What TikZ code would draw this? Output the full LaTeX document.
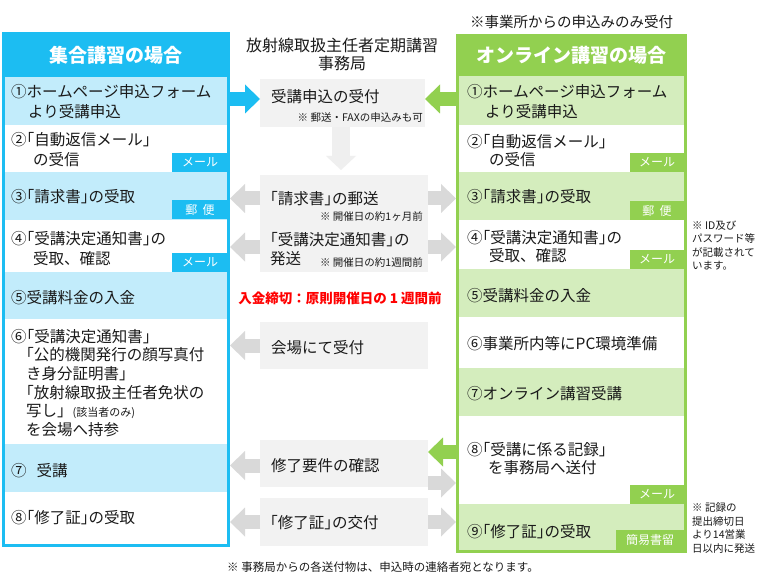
\documentclass[tikz,border=0pt]{standalone}
\usepackage{fontspec}
\setmainfont{Noto Sans CJK JP}
\usetikzlibrary{arrows.meta}
\definecolor{hblue}{HTML}{1CBDF2}
\definecolor{lblue}{HTML}{C2ECFB}
\definecolor{hgreen}{HTML}{92D050}
\definecolor{lgreen}{HTML}{D4EDBD}
\definecolor{gbox}{HTML}{F2F2F2}
\definecolor{garrow}{HTML}{D9D9D9}
\definecolor{darrow}{HTML}{EFEFEF}
\definecolor{txtc}{HTML}{1A1A1A}
\definecolor{redc}{HTML}{FF0000}
\newcommand\kl{\makebox[0.5em][r]{「}}
\newcommand\kr{\makebox[0.5em][l]{」}}
\begin{document}
\begin{tikzpicture}[x=1pt,y=-1pt,
  txt/.style={anchor=west,inner sep=0pt,align=left,text=txtc,font=\fontsize{15.5}{20}\selectfont},
  note/.style={anchor=east,inner sep=0pt,text=txtc,font=\fontsize{10.5}{12}\selectfont},
  tag/.style={anchor=south east,inner sep=0pt,outer sep=0pt,minimum height=19pt,text=white,font=\fontsize{12}{12}\selectfont},
  mbox/.style={fill=gbox,inner sep=0pt,outer sep=0pt,minimum width=168pt,minimum height=47pt,anchor=north west},
  blk/.style={line width=14pt,-{Triangle[length=15pt,width=29pt,line width=0pt]}},
  head/.style={text=white,font=\fontsize{19}{22}\selectfont\bfseries,inner sep=0pt,outer sep=0pt},
]
\useasboundingbox (0,0) rectangle (769,583);
\fill[white] (0,0) rectangle (769,583);

% ---------- left column ----------
\fill[hblue] (2,32) rectangle (230,76);
\node[head] (LH) at (116,55) {集合講習の場合};
\fill[lblue] (5,76) rectangle (227,125);
\fill[lblue] (5,172) rectangle (227,220);
\fill[lblue] (5,272) rectangle (227,319);
\fill[lblue] (5,444) rectangle (227,492);
\node[draw=hblue,line width=3pt,minimum width=225pt,minimum height=469.5pt,inner sep=0pt] (LB) at (116,310.75) {};

\node[tag,fill=hblue,minimum width=56pt] (LT2) at (228,172) {メール};
\node[tag,fill=hblue,minimum width=56pt] (LT3) at (228,219.5) {郵\ \ 便};
\node[tag,fill=hblue,minimum width=56pt] (LT4) at (228,272) {メール};

\node[txt] (L1) at (11,102) {①ホームページ申込フォーム\\\hspace*{17pt}より受講申込};
\node[txt] (L2) at (11,150) {②\kl 自動返信メール\kr\\\hspace*{22pt}の受信};
\node[txt] (L3) at (11,197) {③\kl 請求書\kr の受取};
\node[txt] (L4) at (11,249) {④\kl 受講決定通知書\kr の\\\hspace*{22pt}受取、確認};
\node[txt] (L5) at (11,298) {⑤受講料金の入金};
\node[txt,font=\fontsize{15.5}{18.6}\selectfont] (L6) at (11,383) {⑥\kl 受講決定通知書\kr\\\hspace*{15pt}\kl 公的機関発行の顔写真付\\\hspace*{15pt}き身分証明書\kr\\\hspace*{15pt}\kl 放射線取扱主任者免状の\\\hspace*{15pt}写し」{\fontsize{11}{11}\selectfont(該当者のみ)}\\\hspace*{15pt}を会場へ持参};
\node[txt] (L7) at (11,471) {⑦\hspace{10pt}受講};
\node[txt] (L8) at (11,518) {⑧\kl 修了証\kr の受取};

% ---------- right column ----------
\node[inner sep=0pt,anchor=west,font=\fontsize{14.5}{16}\selectfont,text=txtc] (TN) at (470,22) {※事業所からの申込みのみ受付};
\fill[hgreen] (456,34) rectangle (687,75);
\node[head] (RH) at (571.5,55) {オンライン講習の場合};
\fill[lgreen] (459,75) rectangle (684,125);
\fill[lgreen] (459,172) rectangle (684,220);
\fill[lgreen] (459,269) rectangle (684,317);
\fill[lgreen] (459,368) rectangle (684,416);
\fill[lgreen] (459,504) rectangle (684,551);
\node[draw=hgreen,line width=3pt,minimum width=228pt,minimum height=476.5pt,inner sep=0pt] (RB) at (571.5,313.25) {};

\node[tag,fill=hgreen,minimum width=54pt] (RT2) at (684,172) {メール};
\node[tag,fill=hgreen,minimum width=54pt] (RT3) at (684,220) {郵\ \ 便};
\node[tag,fill=hgreen,minimum width=54pt] (RT4) at (684,269) {メール};
\node[tag,fill=hgreen,minimum width=54pt] (RT8) at (684,504) {メール};
\node[tag,fill=hgreen,minimum width=68pt,minimum height=20pt] (RT9) at (684,550) {簡易書留};

\node[txt] (R1) at (467,102) {①ホームページ申込フォーム\\\hspace*{18pt}より受講申込};
\node[txt,font=\fontsize{15.5}{18}\selectfont] (R2) at (467,151) {②\kl 自動返信メール\kr\\\hspace*{22pt}の受信};
\node[txt] (R3) at (467,197) {③\kl 請求書\kr の受取};
\node[txt,font=\fontsize{15.5}{18}\selectfont] (R4) at (467,247) {④\kl 受講決定通知書\kr の\\\hspace*{22pt}受取、確認};
\node[txt] (R5) at (467,296) {⑤受講料金の入金};
\node[txt] (R6) at (467,344) {⑥事業所内等にPC環境準備};
\node[txt] (R7) at (467,394) {⑦オンライン講習受講};
\node[txt,font=\fontsize{15.5}{18}\selectfont] (R8) at (467,459) {⑧\kl 受講に係る記録\kr\\\hspace*{21pt}を事務局へ送付};
\node[txt] (R9) at (467,532) {⑨\kl 修了証\kr の受取};

\node[anchor=west,inner sep=0pt,align=left,text=txtc,font=\fontsize{10.5}{13.6}\selectfont] (SN1) at (692,245.5) {※ ID及び\\パスワード等\\が記載されて\\います。};
\node[anchor=west,inner sep=0pt,align=left,text=txtc,font=\fontsize{10.5}{13.4}\selectfont] (SN2) at (692,528) {※ 記録の\\提出締切日\\より14営業\\日以内に発送};

% ---------- middle column ----------
\node[align=center,inner sep=0pt,text=txtc,font=\fontsize{16}{18}\selectfont] (T) at (342,54) {放射線取扱主任者定期講習\\事務局};
\node[mbox,minimum width=165pt,minimum height=48pt] (M1) at (260,79) {};
\node[mbox] (M2) at (260,175) {};
\node[mbox,minimum height=50pt] (M3) at (260,222) {};
\node[mbox] (M4) at (260,322) {};
\node[mbox] (M5) at (260,440) {};
\node[mbox,minimum height=48pt] (M6) at (260,498) {};

\node[txt] (M1t) at (271,97) {受講申込の受付};
\node[note] (N1) at (423,118) {※ 郵送・FAXの申込みも可};
\node[txt] (M2t) at (270,199) {\kl 請求書\kr の郵送};
\node[note] (N2) at (423,216) {※ 開催日の約1ヶ月前};
\node[txt,font=\fontsize{15.5}{19}\selectfont] (M3t) at (270,249.5) {\kl 受講決定通知書\kr の\\発送};
\node[note] (N3) at (423,262) {※ 開催日の約1週間前};
\node[inner sep=0pt,text=redc,font=\fontsize{13.5}{16}\selectfont\bfseries] (DL) at (340,298) {入金締切：原則開催日の 1 週間前};
\node[txt] (M4t) at (271,348) {会場にて受付};
\node[txt] (M5t) at (271,466) {修了要件の確認};
\node[txt] (M6t) at (270,523) {\kl 修了証\kr の交付};

\node[inner sep=0pt,anchor=west,text=txtc,font=\fontsize{11.5}{13}\selectfont] (BN) at (227,567) {※ 事務局からの各送付物は、申込時の連絡者宛となります。};

% ---------- arrows ----------
\coordinate (a1) at ([yshift=4pt]M1.west);
\coordinate (a1r) at ([yshift=4pt]M1.east);
\draw[blk,hblue] (a1 -| LB.east) -- (a1);
\draw[blk,hgreen] (a1r -| RB.west) -- (a1r);
\coordinate (dtop) at ([xshift=-1.5pt]M1.south);
\coordinate (dtip) at ([yshift=5pt]M2.north);
\draw[darrow,line width=18pt,-{Triangle[length=14pt,width=30pt,line width=0pt]}] (dtop) -- (dtop |- dtip);

\draw[blk,garrow] (M2.west) -- (M2.west -| LB.east);
\draw[blk,garrow] (M3.west) -- (M3.west -| LB.east);
\draw[blk,garrow] (M4.west) -- (M4.west -| LB.east);
\coordinate (m5l) at ([yshift=-2pt]M5.west);
\draw[blk,garrow] (m5l) -- (m5l -| LB.east);
\draw[blk,garrow] (M6.west) -- (M6.west -| LB.east);

\draw[blk,garrow] (M2.east) -- (M2.east -| RB.west);
\draw[blk,garrow] (M3.east) -- (M3.east -| RB.west);
\coordinate (m5r) at ([yshift=-19.5pt]M5.east);
\draw[blk,garrow] (m5r) -- (m5r -| RB.west);
\draw[blk,garrow] (M6.east) -- (M6.east -| RB.west);
\coordinate (g8) at ([yshift=11.5pt]M5.east);
\draw[blk,hgreen] (g8 -| RB.west) -- (g8);
\end{tikzpicture}
\end{document}
